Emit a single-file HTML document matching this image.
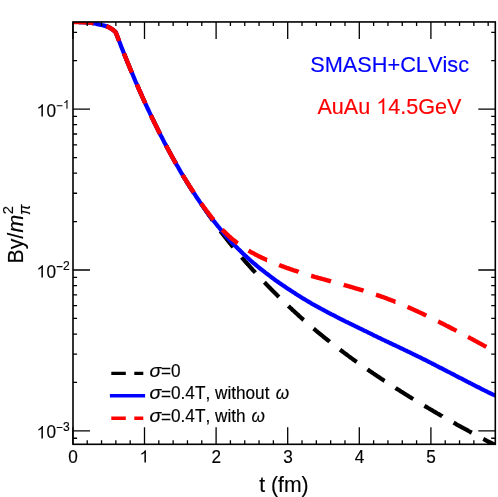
<!DOCTYPE html>
<html><head><meta charset="utf-8"><title>By</title>
<style>
html,body{margin:0;padding:0;background:#fff;}
text{stroke-width:0.15px;}
svg{display:block;font-family:"Liberation Sans",sans-serif;will-change:transform;font-kerning:none;}
</style></head><body>
<svg width="498" height="497" viewBox="0 0 498 497">
<rect width="498" height="497" fill="#fff"/>
<defs><clipPath id="c"><rect x="73.0" y="21.95" width="422.3" height="422.35"/></clipPath></defs>
<g clip-path="url(#c)" fill="none" stroke-linejoin="round">
<path d="M73.0,22.0 L74.1,22.0 L75.5,22.0 L76.9,22.0 L78.2,22.0 L79.6,22.1 L81.0,22.1 L82.3,22.1 L83.7,22.2 L85.0,22.2 L86.4,22.3 L87.7,22.3 L89.1,22.5 L90.4,22.7 L91.8,22.9 L93.1,23.2 L93.6,23.3 M106.4,26.2 L107.6,26.7 L108.9,27.3 L110.1,28.0 L111.3,28.7 L112.4,29.4 L113.5,30.2 L114.5,31.1 L115.5,32.1 L116.4,34.1 L117.4,36.5 L118.3,38.9 L119.1,41.1 L119.1,41.1 M123.9,53.3 L124.8,55.6 L125.8,57.9 L126.7,60.2 L127.6,62.5 L128.6,64.8 L129.5,67.1 L130.4,69.3 L131.4,71.6 L131.8,72.5 M136.9,84.5 L137.8,86.5 L138.7,88.6 L139.6,90.8 L140.6,92.9 L141.5,95.0 L142.4,97.0 L143.4,99.1 L144.3,101.2 L145.2,103.2 L145.3,103.4 M150.9,115.3 L151.8,117.2 L152.7,119.1 L153.6,121.0 L154.6,123.0 L155.5,124.9 L156.4,126.8 L157.4,128.6 L158.3,130.5 L159.3,132.4 L160.0,133.9 M166.0,145.5 L166.9,147.1 L167.8,148.9 L168.8,150.6 L169.7,152.3 L170.6,154.0 L171.6,155.7 L172.5,157.4 L173.4,159.1 L174.4,160.8 L175.3,162.4 L176.0,163.7 M182.6,175.0 L183.4,176.3 L184.3,177.9 L185.3,179.4 L186.2,180.9 L187.1,182.5 L188.1,184.0 L189.0,185.5 L189.9,186.9 L190.9,188.4 L191.8,189.9 L192.7,191.3 L193.5,192.5 L193.5,192.5 M200.8,203.4 L201.8,204.8 L202.7,206.1 L203.6,207.4 L204.6,208.8 L205.5,210.1 L206.4,211.5 L207.4,212.8 L208.3,214.1 L209.2,215.5 L210.2,216.8 L211.1,218.1 L212.0,219.5 L212.7,220.4 M220.4,231.0 L221.2,232.1 L222.2,233.3 L223.1,234.5 L224.0,235.7 L225.0,236.9 L225.9,238.1 L226.8,239.3 L227.8,240.5 L228.7,241.7 L229.6,242.8 L230.6,244.0 L231.5,245.1 L232.5,246.3 L233.2,247.2 M241.6,257.3 L242.4,258.2 L243.4,259.3 L244.3,260.3 L245.2,261.4 L246.2,262.5 L247.1,263.5 L248.0,264.6 L249.0,265.6 L249.9,266.7 L250.8,267.7 L251.8,268.7 L252.7,269.8 L253.6,270.8 L254.6,271.8 L255.4,272.7 L255.4,272.7 M264.4,282.3 L265.2,283.1 L266.1,284.1 L267.0,285.0 L268.0,286.0 L268.9,286.9 L269.8,287.9 L270.8,288.8 L271.7,289.8 L272.6,290.7 L273.6,291.6 L274.5,292.6 L275.4,293.5 L276.4,294.4 L277.3,295.4 L278.2,296.3 L278.9,297.0 M288.4,306.0 L289.3,306.9 L290.2,307.7 L291.2,308.6 L292.1,309.5 L293.0,310.4 L294.0,311.2 L294.9,312.1 L295.8,312.9 L296.8,313.8 L297.7,314.6 L298.6,315.5 L299.6,316.3 L300.5,317.2 L301.4,318.0 L302.4,318.8 L303.3,319.7 L303.7,320.0 M313.6,328.6 L314.4,329.2 L315.3,330.0 L316.2,330.8 L317.2,331.6 L318.1,332.4 L319.0,333.1 L320.0,333.9 L320.9,334.7 L321.8,335.4 L322.8,336.2 L323.7,337.0 L324.7,337.7 L325.6,338.5 L326.5,339.2 L327.5,340.0 L328.4,340.7 L329.3,341.4 L329.6,341.7 M340.0,349.7 L340.8,350.3 L341.8,351.0 L342.7,351.7 L343.7,352.4 L344.6,353.1 L345.5,353.8 L346.5,354.5 L347.4,355.2 L348.3,355.9 L349.3,356.6 L350.2,357.3 L351.1,357.9 L352.1,358.6 L353.0,359.3 L353.9,360.0 L354.9,360.6 L355.8,361.3 L356.7,361.9 L356.7,361.9 M367.4,369.4 L368.3,370.0 L369.2,370.6 L370.1,371.3 L371.1,371.9 L372.0,372.5 L372.9,373.2 L373.9,373.8 L374.8,374.4 L375.7,375.0 L376.7,375.7 L377.6,376.3 L378.5,376.9 L379.5,377.5 L380.4,378.2 L381.3,378.8 L382.3,379.4 L383.2,380.0 L384.1,380.6 L384.6,380.9 M395.6,388.0 L396.4,388.6 L397.4,389.2 L398.3,389.7 L399.3,390.3 L400.2,390.9 L401.1,391.5 L402.1,392.1 L403.0,392.7 L403.9,393.3 L404.9,393.9 L405.8,394.4 L406.7,395.0 L407.7,395.6 L408.6,396.2 L409.5,396.8 L410.5,397.3 L411.4,397.9 L412.3,398.5 L413.2,399.0 L413.2,399.0 M424.4,405.8 L425.3,406.3 L426.2,406.9 L427.1,407.4 L428.1,408.0 L429.0,408.5 L429.9,409.1 L430.9,409.6 L431.8,410.2 L432.7,410.7 L433.7,411.3 L434.6,411.8 L435.5,412.4 L436.5,412.9 L437.4,413.5 L438.3,414.0 L439.3,414.5 L440.2,415.1 L441.1,415.6 L442.1,416.1 L442.2,416.2 M453.6,422.7 L454.5,423.2 L455.5,423.7 L456.4,424.3 L457.3,424.8 L458.3,425.3 L459.2,425.8 L460.1,426.3 L461.1,426.9 L462.0,427.4 L462.9,427.9 L463.9,428.4 L464.8,428.9 L465.8,429.4 L466.7,429.9 L467.6,430.4 L468.6,431.0 L469.5,431.5 L470.4,432.0 L471.4,432.5 L471.8,432.7 M483.3,438.9 L484.1,439.3 L485.1,439.8 L486.0,440.3 L486.9,440.8 L487.9,441.3 L488.8,441.8 L489.7,442.3 L490.7,442.7 L491.6,443.2 L492.5,443.7 L493.5,444.2 L494.4,444.7 L495.3,445.2 L496.3,445.7 L497.2,446.1 L498.1,446.6 L499.1,447.1 L500.0,447.6 L501.0,448.1 L501.7,448.4" stroke="#000" stroke-width="4.2"/>
<path d="M73.0,22.0 L74.4,22.0 L75.7,22.0 L77.1,22.0 L78.5,22.0 L79.8,22.1 L81.2,22.1 L82.5,22.1 L83.9,22.2 L85.3,22.2 L86.6,22.3 L88.0,22.4 L89.3,22.5 L90.6,22.7 L92.0,23.0 L93.3,23.3 L94.7,23.5 L96.0,23.8 L97.3,24.1 L98.7,24.4 L100.0,24.7 L101.3,25.0 L102.7,25.3 L104.0,25.6 L105.3,25.9 L106.6,26.3 L107.8,26.8 L109.1,27.4 L110.3,28.1 L111.5,28.8 L112.6,29.5 L113.6,30.4 L114.7,31.3 L115.6,32.2 L116.6,34.4 L117.5,36.9 L118.4,39.3 L119.3,41.6 L120.3,44.0 L121.2,46.4 L122.1,48.7 L123.0,51.1 L123.9,53.4 L124.9,55.7 L125.8,58.0 L126.7,60.3 L127.6,62.5 L128.6,64.8 L129.5,67.0 L130.4,69.2 L131.3,71.4 L132.3,73.6 L133.2,75.8 L134.1,78.0 L135.0,80.2 L135.9,82.3 L136.9,84.4 L137.8,86.6 L138.7,88.7 L139.6,90.8 L140.6,92.8 L141.5,94.9 L142.4,97.0 L143.3,99.0 L144.2,101.0 L145.2,103.1 L146.1,105.1 L147.0,107.1 L147.9,109.0 L148.9,111.0 L149.8,113.0 L150.7,114.9 L151.6,116.8 L152.5,118.8 L153.5,120.7 L154.4,122.6 L155.3,124.4 L156.2,126.3 L157.2,128.2 L158.1,130.0 L159.0,131.9 L159.9,133.7 L160.8,135.5 L161.8,137.3 L162.7,139.1 L163.6,140.9 L164.5,142.7 L165.5,144.4 L166.4,146.2 L167.3,147.9 L168.2,149.6 L169.1,151.3 L170.1,153.0 L171.0,154.7 L171.9,156.4 L172.8,158.1 L173.8,159.7 L174.7,161.4 L175.6,163.0 L176.5,164.6 L177.5,166.2 L178.4,167.8 L179.3,169.4 L180.2,171.0 L181.1,172.6 L182.1,174.1 L183.0,175.7 L183.9,177.2 L184.8,178.7 L185.8,180.2 L186.7,181.7 L187.6,183.2 L188.5,184.7 L189.4,186.2 L190.4,187.6 L191.3,189.1 L192.2,190.5 L193.1,191.9 L194.1,193.3 L195.0,194.7 L195.9,196.1 L196.8,197.5 L197.7,198.9 L198.7,200.2 L199.6,201.6 L200.5,202.9 L201.4,204.2 L202.4,205.5 L203.3,206.8 L204.2,208.1 L205.1,209.4 L206.0,210.7 L207.0,212.0 L207.9,213.2 L208.8,214.4 L209.7,215.7 L210.7,216.9 L211.6,218.1 L212.5,219.3 L213.4,220.5 L214.3,221.7 L215.3,222.9 L216.2,224.0 L217.1,225.2 L218.0,226.3 L219.0,227.4 L219.9,228.6 L220.8,229.7 L221.7,230.8 L222.7,231.9 L223.6,233.0 L224.5,234.0 L225.4,235.1 L226.3,236.2 L227.3,237.2 L228.2,238.3 L229.1,239.3 L230.0,240.3 L231.0,241.3 L231.9,242.3 L232.8,243.3 L233.7,244.3 L234.6,245.3 L235.6,246.2 L236.5,247.2 L237.4,248.1 L238.3,249.0 L239.3,249.9 L240.2,250.8 L241.1,251.7 L242.0,252.6 L242.9,253.5 L243.9,254.4 L244.8,255.2 L245.7,256.1 L246.6,257.0 L247.6,257.8 L248.5,258.6 L249.4,259.5 L250.3,260.3 L251.2,261.1 L252.2,261.9 L253.1,262.7 L254.0,263.5 L254.9,264.2 L255.9,265.0 L256.8,265.8 L257.7,266.5 L258.6,267.3 L259.5,268.0 L260.5,268.8 L261.4,269.5 L262.3,270.2 L263.2,270.9 L264.2,271.7 L265.1,272.4 L266.0,273.1 L266.9,273.8 L267.9,274.5 L268.8,275.2 L269.7,275.9 L270.6,276.6 L271.5,277.3 L272.5,278.0 L273.4,278.6 L274.3,279.3 L275.2,280.0 L276.2,280.7 L277.1,281.3 L278.0,282.0 L278.9,282.6 L279.8,283.3 L280.8,283.9 L281.7,284.5 L282.6,285.2 L283.5,285.8 L284.5,286.4 L285.4,287.1 L286.3,287.7 L287.2,288.3 L288.1,288.9 L289.1,289.5 L290.0,290.1 L290.9,290.7 L291.8,291.3 L292.8,291.9 L293.7,292.5 L294.6,293.1 L295.5,293.7 L296.4,294.3 L297.4,294.9 L298.3,295.5 L299.2,296.0 L300.1,296.6 L301.1,297.2 L302.0,297.8 L302.9,298.3 L303.8,298.9 L304.7,299.4 L305.7,300.0 L306.6,300.5 L307.5,301.1 L308.4,301.6 L309.4,302.2 L310.3,302.7 L311.2,303.3 L312.1,303.8 L313.1,304.3 L314.0,304.8 L314.9,305.3 L315.8,305.8 L316.7,306.4 L317.7,306.9 L318.6,307.4 L319.5,307.9 L320.4,308.4 L321.4,308.9 L322.3,309.3 L323.2,309.8 L324.1,310.3 L325.0,310.8 L326.0,311.3 L326.9,311.8 L327.8,312.3 L328.7,312.8 L329.7,313.3 L330.6,313.8 L331.5,314.3 L332.4,314.7 L333.3,315.2 L334.3,315.7 L335.2,316.2 L336.1,316.7 L337.0,317.1 L338.0,317.6 L338.9,318.1 L339.8,318.6 L340.7,319.0 L341.6,319.5 L342.6,320.0 L343.5,320.4 L344.4,320.9 L345.3,321.3 L346.3,321.8 L347.2,322.2 L348.1,322.7 L349.0,323.1 L349.9,323.6 L350.9,324.0 L351.8,324.5 L352.7,324.9 L353.6,325.4 L354.6,325.8 L355.5,326.3 L356.4,326.7 L357.3,327.2 L358.3,327.6 L359.2,328.1 L360.1,328.5 L361.0,329.0 L361.9,329.4 L362.9,329.9 L363.8,330.3 L364.7,330.8 L365.6,331.2 L366.6,331.7 L367.5,332.1 L368.4,332.6 L369.3,333.0 L370.2,333.5 L371.2,333.9 L372.1,334.4 L373.0,334.8 L373.9,335.3 L374.9,335.8 L375.8,336.2 L376.7,336.7 L377.6,337.1 L378.5,337.6 L379.5,338.0 L380.4,338.4 L381.3,338.9 L382.2,339.3 L383.2,339.8 L384.1,340.2 L385.0,340.6 L385.9,341.1 L386.8,341.5 L387.8,341.9 L388.7,342.4 L389.6,342.8 L390.5,343.3 L391.5,343.7 L392.4,344.1 L393.3,344.6 L394.2,345.0 L395.1,345.4 L396.1,345.9 L397.0,346.3 L397.9,346.7 L398.8,347.2 L399.8,347.6 L400.7,348.1 L401.6,348.5 L402.5,348.9 L403.5,349.4 L404.4,349.8 L405.3,350.3 L406.2,350.7 L407.1,351.2 L408.1,351.6 L409.0,352.0 L409.9,352.5 L410.8,352.9 L411.8,353.4 L412.7,353.8 L413.6,354.3 L414.5,354.7 L415.4,355.2 L416.4,355.6 L417.3,356.1 L418.2,356.5 L419.1,357.0 L420.1,357.4 L421.0,357.9 L421.9,358.4 L422.8,358.8 L423.7,359.3 L424.7,359.7 L425.6,360.2 L426.5,360.7 L427.4,361.1 L428.4,361.6 L429.3,362.1 L430.2,362.5 L431.1,363.0 L432.0,363.5 L433.0,364.0 L433.9,364.4 L434.8,364.9 L435.7,365.4 L436.7,365.9 L437.6,366.3 L438.5,366.8 L439.4,367.3 L440.3,367.8 L441.3,368.2 L442.2,368.7 L443.1,369.2 L444.0,369.7 L445.0,370.1 L445.9,370.6 L446.8,371.1 L447.7,371.6 L448.7,372.0 L449.6,372.5 L450.5,373.0 L451.4,373.5 L452.3,373.9 L453.3,374.4 L454.2,374.9 L455.1,375.4 L456.0,375.8 L457.0,376.3 L457.9,376.8 L458.8,377.3 L459.7,377.8 L460.6,378.2 L461.6,378.7 L462.5,379.2 L463.4,379.7 L464.3,380.1 L465.3,380.6 L466.2,381.1 L467.1,381.6 L468.0,382.0 L468.9,382.5 L469.9,383.0 L470.8,383.5 L471.7,383.9 L472.6,384.4 L473.6,384.9 L474.5,385.4 L475.4,385.8 L476.3,386.3 L477.2,386.8 L478.2,387.2 L479.1,387.7 L480.0,388.2 L480.9,388.7 L481.9,389.1 L482.8,389.6 L483.7,390.0 L484.6,390.5 L485.5,391.0 L486.5,391.4 L487.4,391.9 L488.3,392.3 L489.2,392.8 L490.2,393.2 L491.1,393.6 L492.0,394.1 L492.9,394.5 L493.9,394.9 L494.8,395.3 L495.7,395.7 L496.6,396.2 L497.5,396.6 L498.5,397.0 L499.4,397.4" stroke="#0000ff" stroke-width="4.2"/>
<path d="M73.0,22.0 L74.1,22.0 L75.5,22.0 L76.9,22.0 L78.2,22.0 L79.6,22.1 L81.0,22.1 L82.3,22.1 L83.7,22.2 L85.0,22.2 L86.4,22.3 L87.7,22.3 L89.1,22.5 L90.4,22.7 L91.8,22.9 L93.1,23.2 L93.6,23.3 M106.4,26.2 L107.6,26.7 L108.9,27.3 L110.1,28.0 L111.3,28.7 L112.4,29.4 L113.5,30.2 L114.5,31.1 L115.5,32.1 L116.4,34.0 L117.3,36.5 L118.3,38.9 L119.1,41.1 L119.1,41.1 M123.9,53.3 L124.7,55.3 L125.6,57.6 L126.6,59.9 L127.5,62.1 L128.4,64.4 L129.3,66.6 L130.3,68.9 L131.2,71.1 L131.8,72.5 M136.9,84.5 L137.8,86.6 L138.7,88.7 L139.6,90.8 L140.6,92.8 L141.5,94.9 L142.4,97.0 L143.3,99.0 L144.2,101.0 L145.2,103.1 L145.3,103.4 M150.9,115.3 L151.8,117.2 L152.7,119.1 L153.6,121.0 L154.5,122.9 L155.5,124.8 L156.4,126.6 L157.3,128.5 L158.2,130.3 L159.2,132.2 L160.0,133.9 L160.0,133.9 M166.0,145.5 L166.8,147.0 L167.8,148.8 L168.7,150.5 L169.6,152.2 L170.5,153.9 L171.5,155.6 L172.4,157.2 L173.3,158.9 L174.2,160.5 L175.1,162.2 L176.0,163.7 L176.0,163.7 M182.6,175.0 L183.4,176.4 L184.4,177.9 L185.3,179.4 L186.2,180.8 L187.1,182.3 L188.1,183.7 L189.0,185.2 L189.9,186.6 L190.8,188.0 L191.7,189.4 L192.7,190.8 L193.6,192.2 L193.7,192.4 M201.1,203.3 L201.9,204.4 L202.8,205.7 L203.7,207.0 L204.7,208.3 L205.6,209.6 L206.5,210.8 L207.4,212.0 L208.4,213.2 L209.3,214.4 L210.2,215.6 L211.1,216.7 L212.0,217.9 L213.0,219.0 L213.6,219.7 M222.2,229.6 L223.1,230.5 L224.0,231.4 L225.0,232.4 L225.9,233.3 L226.8,234.2 L227.7,235.0 L228.6,235.9 L229.6,236.7 L230.5,237.5 L231.4,238.3 L232.3,239.1 L233.3,239.9 L234.2,240.6 L235.1,241.3 L236.0,242.0 L236.9,242.8 L237.7,243.3 M248.5,250.6 L249.4,251.1 L250.3,251.7 L251.2,252.2 L252.2,252.7 L253.1,253.2 L254.0,253.7 L254.9,254.2 L255.9,254.7 L256.8,255.2 L257.7,255.7 L258.6,256.1 L259.5,256.6 L260.5,257.0 L261.4,257.5 L262.3,257.9 L263.2,258.3 L264.2,258.8 L265.1,259.2 L266.0,259.6 L266.9,260.0 L267.0,260.0 M279.1,265.0 L280.0,265.4 L280.9,265.7 L281.8,266.1 L282.8,266.4 L283.7,266.7 L284.6,267.1 L285.5,267.4 L286.5,267.8 L287.4,268.1 L288.3,268.4 L289.2,268.7 L290.1,269.1 L291.1,269.4 L292.0,269.7 L292.9,270.0 L293.8,270.3 L294.8,270.6 L295.7,270.9 L296.6,271.2 L297.5,271.5 L298.4,271.8 L298.6,271.9 M311.1,275.8 L312.0,276.0 L312.9,276.3 L313.8,276.5 L314.7,276.8 L315.7,277.1 L316.6,277.3 L317.5,277.6 L318.4,277.9 L319.4,278.1 L320.3,278.4 L321.2,278.7 L322.1,278.9 L323.0,279.2 L324.0,279.4 L324.9,279.7 L325.8,280.0 L326.7,280.2 L327.7,280.5 L328.6,280.7 L329.5,281.0 L330.4,281.2 L331.0,281.4 M343.7,284.9 L344.6,285.2 L345.5,285.4 L346.4,285.7 L347.3,285.9 L348.3,286.2 L349.2,286.5 L350.1,286.7 L351.0,287.0 L351.9,287.2 L352.9,287.5 L353.8,287.8 L354.7,288.0 L355.6,288.3 L356.6,288.6 L357.5,288.9 L358.4,289.1 L359.3,289.4 L360.2,289.7 L361.2,290.0 L362.1,290.2 L363.0,290.5 L363.5,290.7 M376.0,294.7 L376.9,295.0 L377.8,295.3 L378.7,295.6 L379.6,295.9 L380.5,296.2 L381.5,296.6 L382.4,296.9 L383.3,297.2 L384.2,297.5 L385.2,297.9 L386.1,298.2 L387.0,298.6 L387.9,298.9 L388.8,299.3 L389.8,299.6 L390.7,300.0 L391.6,300.3 L392.5,300.7 L393.5,301.0 L394.4,301.4 L395.3,301.8 L395.4,301.8 M407.5,306.9 L408.4,307.3 L409.3,307.7 L410.2,308.1 L411.1,308.5 L412.1,308.9 L413.0,309.3 L413.9,309.8 L414.8,310.2 L415.7,310.6 L416.7,311.0 L417.6,311.4 L418.5,311.9 L419.4,312.3 L420.4,312.7 L421.3,313.2 L422.2,313.6 L423.1,314.0 L424.1,314.5 L425.0,314.9 L425.9,315.4 L426.3,315.6 M438.1,321.4 L439.0,321.8 L439.9,322.3 L440.8,322.8 L441.7,323.2 L442.7,323.7 L443.6,324.2 L444.5,324.6 L445.4,325.1 L446.3,325.6 L447.3,326.1 L448.2,326.5 L449.1,327.0 L450.0,327.5 L451.0,328.0 L451.9,328.5 L452.8,328.9 L453.7,329.4 L454.6,329.9 L455.6,330.4 L456.5,330.9 L456.5,330.9 M468.0,337.0 L468.8,337.4 L469.7,337.9 L470.6,338.4 L471.6,338.9 L472.5,339.4 L473.4,339.9 L474.3,340.4 L475.2,340.9 L476.2,341.4 L477.1,341.9 L478.0,342.4 L478.9,342.9 L479.9,343.4 L480.8,343.9 L481.7,344.4 L482.6,344.9 L483.5,345.4 L484.5,345.9 L485.4,346.3 L486.3,346.8 L486.3,346.8 M497.8,353.0 L498.6,353.4 L499.5,353.9 L500.0,354.2" stroke="#ff0000" stroke-width="4.4"/>
</g>
<path d="M72.90,444.3 v-17.0 M72.90,21.95 v17.0 M87.22,444.3 v-4.1 M87.22,21.95 v4.1 M101.54,444.3 v-4.1 M101.54,21.95 v4.1 M115.86,444.3 v-4.1 M115.86,21.95 v4.1 M130.18,444.3 v-4.1 M130.18,21.95 v4.1 M144.50,444.3 v-17.0 M144.50,21.95 v17.0 M158.82,444.3 v-4.1 M158.82,21.95 v4.1 M173.14,444.3 v-4.1 M173.14,21.95 v4.1 M187.46,444.3 v-4.1 M187.46,21.95 v4.1 M201.78,444.3 v-4.1 M201.78,21.95 v4.1 M216.10,444.3 v-17.0 M216.10,21.95 v17.0 M230.42,444.3 v-4.1 M230.42,21.95 v4.1 M244.74,444.3 v-4.1 M244.74,21.95 v4.1 M259.06,444.3 v-4.1 M259.06,21.95 v4.1 M273.38,444.3 v-4.1 M273.38,21.95 v4.1 M287.70,444.3 v-17.0 M287.70,21.95 v17.0 M302.02,444.3 v-4.1 M302.02,21.95 v4.1 M316.34,444.3 v-4.1 M316.34,21.95 v4.1 M330.66,444.3 v-4.1 M330.66,21.95 v4.1 M344.98,444.3 v-4.1 M344.98,21.95 v4.1 M359.30,444.3 v-17.0 M359.30,21.95 v17.0 M373.62,444.3 v-4.1 M373.62,21.95 v4.1 M387.94,444.3 v-4.1 M387.94,21.95 v4.1 M402.26,444.3 v-4.1 M402.26,21.95 v4.1 M416.58,444.3 v-4.1 M416.58,21.95 v4.1 M430.90,444.3 v-17.0 M430.90,21.95 v17.0 M445.22,444.3 v-4.1 M445.22,21.95 v4.1 M459.54,444.3 v-4.1 M459.54,21.95 v4.1 M473.86,444.3 v-4.1 M473.86,21.95 v4.1 M488.18,444.3 v-4.1 M488.18,21.95 v4.1 M73.0,438.26 h4.1 M495.3,438.26 h-4.1 M73.0,430.90 h17.0 M495.3,430.90 h-17.0 M73.0,382.46 h4.1 M495.3,382.46 h-4.1 M73.0,354.13 h4.1 M495.3,354.13 h-4.1 M73.0,334.03 h4.1 M495.3,334.03 h-4.1 M73.0,318.44 h4.1 M495.3,318.44 h-4.1 M73.0,305.70 h4.1 M495.3,305.70 h-4.1 M73.0,294.92 h4.1 M495.3,294.92 h-4.1 M73.0,285.59 h4.1 M495.3,285.59 h-4.1 M73.0,277.36 h4.1 M495.3,277.36 h-4.1 M73.0,270.00 h17.0 M495.3,270.00 h-17.0 M73.0,221.56 h4.1 M495.3,221.56 h-4.1 M73.0,193.23 h4.1 M495.3,193.23 h-4.1 M73.0,173.13 h4.1 M495.3,173.13 h-4.1 M73.0,157.54 h4.1 M495.3,157.54 h-4.1 M73.0,144.80 h4.1 M495.3,144.80 h-4.1 M73.0,134.02 h4.1 M495.3,134.02 h-4.1 M73.0,124.69 h4.1 M495.3,124.69 h-4.1 M73.0,116.46 h4.1 M495.3,116.46 h-4.1 M73.0,109.10 h17.0 M495.3,109.10 h-17.0 M73.0,60.66 h4.1 M495.3,60.66 h-4.1 M73.0,32.33 h4.1 M495.3,32.33 h-4.1" stroke="#000" stroke-width="1.3" fill="none"/>
<rect x="73.0" y="21.95" width="422.3" height="422.35" fill="none" stroke="#000" stroke-width="1.6"/>
<g fill="#000"><text transform="translate(73.10,462.90) scale(1.0,1.03)" font-size="17.2" text-anchor="middle" stroke="#000">0</text><path transform="translate(139.52,462.60) scale(0.00840,-0.00840)" d="M763,0H583V1147Q518,1085 412.5,1023T223,930V1104Q374,1175 487,1276T647,1472H763Z" fill="#000"/><text transform="translate(216.30,462.90) scale(1.0,1.03)" font-size="17.2" text-anchor="middle" stroke="#000">2</text><text transform="translate(287.90,462.90) scale(1.0,1.03)" font-size="17.2" text-anchor="middle" stroke="#000">3</text><text transform="translate(359.50,462.90) scale(1.0,1.03)" font-size="17.2" text-anchor="middle" stroke="#000">4</text><text transform="translate(431.10,462.90) scale(1.0,1.03)" font-size="17.2" text-anchor="middle" stroke="#000">5</text><path transform="translate(36.50,116.60) scale(0.00840,-0.00840)" d="M763,0H583V1147Q518,1085 412.5,1023T223,930V1104Q374,1175 487,1276T647,1472H763Z" fill="#000"/><text transform="translate(46.57,116.60) scale(1.0,1.04)" font-size="17.2" stroke="#000">0</text><path transform="translate(63.00,108.80) scale(0.00591,-0.00591)" d="M763,0H583V1147Q518,1085 412.5,1023T223,930V1104Q374,1175 487,1276T647,1472H763Z" fill="#000"/><path transform="translate(36.50,277.50) scale(0.00840,-0.00840)" d="M763,0H583V1147Q518,1085 412.5,1023T223,930V1104Q374,1175 487,1276T647,1472H763Z" fill="#000"/><text transform="translate(46.57,277.50) scale(1.0,1.04)" font-size="17.2" stroke="#000">0</text><text transform="translate(63.00,269.70) scale(1.0,1.04)" font-size="12.1" stroke="#000">2</text><path transform="translate(36.50,438.40) scale(0.00840,-0.00840)" d="M763,0H583V1147Q518,1085 412.5,1023T223,930V1104Q374,1175 487,1276T647,1472H763Z" fill="#000"/><text transform="translate(46.57,438.40) scale(1.0,1.04)" font-size="17.2" stroke="#000">0</text><text transform="translate(63.00,430.60) scale(1.0,1.04)" font-size="12.1" stroke="#000">3</text></g>
<path d="M56.7,105.70 h5.8 M56.7,266.60 h5.8 M56.7,427.50 h5.8" stroke="#000" stroke-width="1.1" fill="none"/>
<text transform="translate(259.20,491.60) scale(1.0,1.04)" font-size="21.2" stroke="#000">t (fm)</text>
<g transform="translate(23.3,263.4) rotate(-90)"><text transform="translate(0.00,0.00) scale(1.0,1.04)" font-size="21.2" stroke="#000">By/</text><text transform="translate(30.80,0.00) scale(1.0,1.04)" font-size="21.2" stroke="#000" font-style="italic">m</text><text transform="translate(49.20,-9.80) scale(1.0,1.04)" font-size="14.8" stroke="#000">2</text><text transform="translate(48.40,6.30) scale(1.0,1.04)" font-size="15.7" stroke="#000" font-style="italic">π</text></g>
<text transform="translate(310.20,71.50) scale(1.0,1.04)" font-size="21.75" fill="#0000ff" stroke="#0000ff">SMASH+CLVisc</text>
<text transform="translate(317.40,113.90) scale(1.0,1.04)" font-size="21.6" fill="#ff0000" stroke="#ff0000">AuAu</text>
<path transform="translate(376.24,113.90) scale(0.01055,-0.01055)" d="M763,0H583V1147Q518,1085 412.5,1023T223,930V1104Q374,1175 487,1276T647,1472H763Z" fill="#ff0000"/>
<text transform="translate(388.25,113.90) scale(1.0,1.04)" font-size="21.6" fill="#ff0000" stroke="#ff0000">4.5GeV</text>
<g fill="none">
<path d="M111.3,373.4 h14.5 M134.3,373.4 h9" stroke="#000" stroke-width="3.4"/>
<path d="M109.9,395.8 H145.1" stroke="#0000ff" stroke-width="3.5"/>
<path d="M111.3,418.2 h14.5 M134.3,418.2 h9" stroke="#ff0000" stroke-width="3.5"/>
</g>
<g fill="#000"><text transform="translate(149.60,376.60) scale(1.13,1.02)" font-size="17.2" stroke="#000" font-style="italic">σ</text><text transform="translate(161.00,377.40) scale(1.0,1.02)" font-size="17.2" stroke="#000">=</text><text transform="translate(171.04,376.60) scale(1.0,1.02)" font-size="17.2" stroke="#000">0</text><text transform="translate(149.60,399.30) scale(1.13,1.02)" font-size="17.2" stroke="#000" font-style="italic">σ</text><text transform="translate(161.00,400.10) scale(1.0,1.02)" font-size="17.2" stroke="#000">=</text><text transform="translate(171.04,399.30) scale(1.0,1.02)" font-size="17.2" stroke="#000">0.4T, without</text><text transform="translate(275.80,399.30) scale(1.0,1.02)" font-size="17.2" stroke="#000" font-style="italic">ω</text><text transform="translate(149.60,421.80) scale(1.13,1.02)" font-size="17.2" stroke="#000" font-style="italic">σ</text><text transform="translate(161.00,422.60) scale(1.0,1.02)" font-size="17.2" stroke="#000">=</text><text transform="translate(171.04,421.80) scale(1.0,1.02)" font-size="17.2" stroke="#000">0.4T, with</text><text transform="translate(251.60,421.80) scale(1.0,1.02)" font-size="17.2" stroke="#000" font-style="italic">ω</text></g>
</svg>
</body></html>
